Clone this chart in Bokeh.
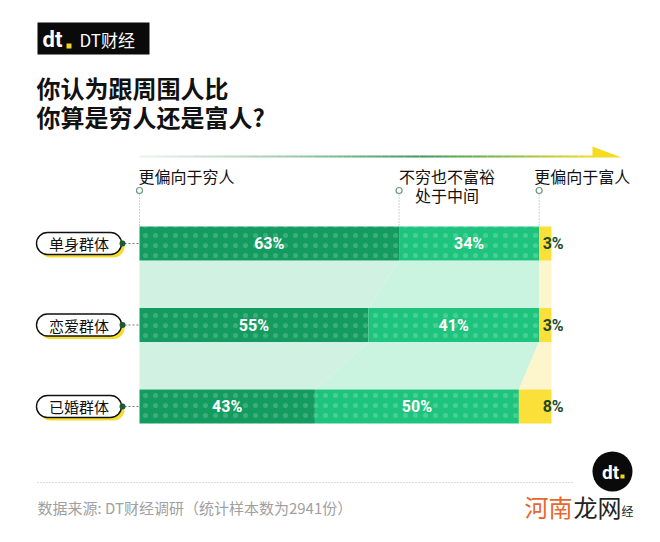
import numpy as np
from bokeh.plotting import figure
from bokeh.models import Range1d, ColumnDataSource, Label
from bokeh.core.properties import value
from bokeh.embed import file_html
from bokeh.resources import INLINE

# ---------------- data ----------------
groups = ["单身群体", "恋爱群体", "已婚群体"]
poor = [63, 55, 43]
middle = [34, 41, 50]
rich = [3, 3, 8]
series_labels = ["更偏向于穷人", "不穷也不富裕", "处于中间", "更偏向于富人"]
title_lines = ["你认为跟周围人比", "你算是穷人还是富人?"]
source_note = "数据来源: DT财经调研（统计样本数为2941份）"

# ---------------- layout constants ----------------
W, H = 644, 526
OFF = 7                  # shift so coordinates line up with the reference
X0, XW = 132, 412        # bar start (px) and px per 100%
Y0, YS = 236, 81.5       # first bar centre (px) and spacing (px)
BAR_H = 34

CJK = "Noto Sans CJK SC"
NUM = "Roboto"
DARK = "#149b60"
MID = "#1ec47d"
YEL = "#fbe03a"
MINT_D = "#d1f1e3"
MINT_M = "#caf3e0"
LYEL = "#fdf5cc"

p = figure(width=W, height=H, output_backend="svg", toolbar_location=None,
           x_range=Range1d(-(X0 + OFF) / XW * 100, (W - X0 - OFF) / XW * 100),
           y_range=Range1d((H - Y0 - OFF) / YS, -(Y0 + OFF) / YS),
           min_border=0, outline_line_color=None, background_fill_color="white",
           border_fill_color="white")
p.extra_x_ranges = {"px": Range1d(-OFF, W - OFF)}
p.extra_y_ranges = {"px": Range1d(H - OFF, -OFF)}
p.xaxis.visible = False
p.yaxis.visible = False
p.grid.visible = False

n = len(groups)
idx = np.arange(n)
poor_a, mid_a, rich_a = np.array(poor, float), np.array(middle, float), np.array(rich, float)
tot = poor_a + mid_a + rich_a
a = poor_a / tot * 100
b = (poor_a + mid_a) / tot * 100
c = np.full(n, 100.0)
h = BAR_H / YS

# ---------------- connector bands ----------------
xs, ys, cols = [], [], []
for i in range(n - 1):
    top, bot = i + h / 2, i + 1 - h / 2
    xs += [[0, a[i], a[i + 1], 0], [a[i], b[i], b[i + 1], a[i + 1]], [b[i], c[i], c[i + 1], b[i + 1]]]
    ys += [[top, top, bot, bot]] * 3
    cols += [MINT_D, MINT_M, LYEL]
p.patches(xs=xs, ys=ys, fill_color=cols, line_color=None)

# ---------------- bars ----------------
src = ColumnDataSource(dict(y=idx, a=a, b=b, c=c,
                            pl=[f"{v}%" for v in poor], ml=[f"{v}%" for v in middle],
                            rl=[f"{v}%" for v in rich],
                            am=a / 2, bm=(a + b) / 2, rx=c + 0.4))
hatch = dict(hatch_pattern="dot", hatch_color="white", hatch_alpha=0.18, hatch_scale=10, hatch_weight=0.5)
p.hbar(y="y", left=0, right="a", height=h, source=src, fill_color=DARK, line_color=None, **hatch)
p.hbar(y="y", left="a", right="b", height=h, source=src, fill_color=MID, line_color=None, **hatch)
p.hbar(y="y", left="b", right="c", height=h, source=src, fill_color=YEL, line_color=None)

txt = dict(text_font=value(NUM), text_font_style="bold", text_font_size="16px",
           text_align="center", text_baseline="middle")
p.text(x="am", y="y", text="pl", source=src, text_color="white", **txt)
p.text(x="bm", y="y", text="ml", source=src, text_color="white", **txt)
p.text(x="rx", y="y", text="rl", source=src, text_color="#1c4a2f", **txt)

# ---------------- group labels (left) ----------------
gsrc = ColumnDataSource(dict(y=idx, ys=idx + 3 / YS, g=groups))
p.rect(x=74.5, y="ys", width=85, height=22, width_units="screen", height_units="screen",
       border_radius=11, x_range_name="px", source=gsrc, fill_color="#f6dc2c", line_color=None)
p.rect(x=71.5, y="y", width=85, height=22, width_units="screen", height_units="screen",
       border_radius=11, x_range_name="px", source=gsrc, fill_color="white",
       line_color="#111111", line_width=1.4)
p.text(x=71.5, y="y", text="g", source=gsrc, x_range_name="px", text_font=value(CJK),
       text_font_size="15px", text_color="#111111", text_align="center", text_baseline="middle")
p.segment(x0=117, y0="y", x1=X0, y1="y", source=gsrc, x_range_name="px",
          line_color="#777777", line_dash="2 2", line_width=1)
p.scatter(x=115, y="y", source=gsrc, x_range_name="px", marker="circle", size=6,
          fill_color="#1b5a36", line_color=None)

# ---------------- top arrow ----------------
stops_t = [0.0, 0.35, 0.62, 0.82, 1.0]
stops_c = [(236, 245, 239), (150, 200, 165), (60, 152, 90), (140, 190, 70), (244, 220, 40)]
ax = np.linspace(X0, 586, 61)
seg_cols = []
for k in range(60):
    t = (k + 0.5) / 60
    rgb = [int(np.interp(t, stops_t, [s[j] for s in stops_c])) for j in range(3)]
    seg_cols.append("#%02x%02x%02x" % tuple(rgb))
p.segment(x0=ax[:-1], y0=149, x1=ax[1:], y1=149, x_range_name="px", y_range_name="px",
          line_color=seg_cols, line_width=2)
p.patch(x=[585, 585, 614], y=[139, 150, 150], x_range_name="px", y_range_name="px",
        fill_color="#f5dc1e", line_color=None)

# ---------------- series markers ----------------
bx = [0, a[0], b[0]]
p.segment(x0=bx, y0=187, x1=bx, y1=Y0 - BAR_H / 2, y_range_name="px",
          line_color="#9aa8a0", line_dash="1 2", line_width=1)
p.scatter(x=bx, y=183, y_range_name="px", marker="circle", size=6, fill_color="white",
          line_color="#6a9a7a", line_width=1.2)

lab = dict(x_range_name="px", y_range_name="px", text_font=CJK, text_font_size="16px",
           text_color="#111111", text_baseline="middle")
mid_x = X0 + a[0] * XW / 100 + 48
p.add_layout(Label(x=X0 - 1, y=168, text=series_labels[0], text_align="left", **lab))
p.add_layout(Label(x=mid_x, y=168, text=series_labels[1], text_align="center", **lab))
p.add_layout(Label(x=mid_x, y=187, text=series_labels[2], text_align="center", **lab))
p.add_layout(Label(x=X0 + b[0] * XW / 100 - 5, y=168, text=series_labels[3],
                   text_align="left", **lab))

# ---------------- header ----------------
p.quad(left=30, right=142, top=15, bottom=47, x_range_name="px", y_range_name="px",
       fill_color="#0a0a0a", line_color=None)
p.add_layout(Label(x=35, y=32, text="dt", x_range_name="px", y_range_name="px",
                   text_font=NUM, text_font_style="bold", text_font_size="22px",
                   text_color="white", text_baseline="middle"))
p.quad(left=59, right=64, top=36, bottom=41, x_range_name="px", y_range_name="px",
       fill_color="#f5d21e", line_color=None)
p.add_layout(Label(x=72, y=32, text="DT财经", x_range_name="px", y_range_name="px",
                   text_font=CJK, text_font_size="17px", text_color="white",
                   text_baseline="middle"))
for k, line in enumerate(title_lines):
    p.add_layout(Label(x=29, y=80 + 29 * k, text=line, x_range_name="px", y_range_name="px",
                       text_font=CJK, text_font_style="bold", text_font_size="24px",
                       text_color="#111111", text_baseline="middle"))

# ---------------- footer ----------------
p.segment(x0=30, y0=475, x1=566, y1=475, x_range_name="px", y_range_name="px",
          line_color="#bbbbbb", line_dash="1 2", line_width=1)
p.add_layout(Label(x=30, y=500, text=source_note, x_range_name="px", y_range_name="px",
                   text_font=CJK, text_font_size="15px", text_color="#a0a0a0",
                   text_baseline="middle"))
p.scatter(x=605, y=464, x_range_name="px", y_range_name="px", marker="circle", size=40,
          fill_color="#0a0a0a", line_color=None)
p.add_layout(Label(x=603, y=465, text="dt", x_range_name="px", y_range_name="px",
                   text_font=NUM, text_font_style="bold", text_font_size="19px",
                   text_color="white", text_align="center", text_baseline="middle"))
p.quad(left=613, right=617, top=467, bottom=471, x_range_name="px", y_range_name="px",
       fill_color="#f5d21e", line_color=None)
p.add_layout(Label(x=517, y=499, text="河南", x_range_name="px", y_range_name="px",
                   text_font=CJK, text_font_size="24px", text_color="#e8672c",
                   text_baseline="middle"))
p.add_layout(Label(x=566, y=499, text="龙网", x_range_name="px", y_range_name="px",
                   text_font=CJK, text_font_size="24px", text_color="#222222",
                   text_baseline="middle"))
p.add_layout(Label(x=614, y=503, text="经", x_range_name="px", y_range_name="px",
                   text_font=CJK, text_font_size="12px", text_color="#222222",
                   text_baseline="middle"))

open("out.html", "w").write(file_html(p, INLINE))
